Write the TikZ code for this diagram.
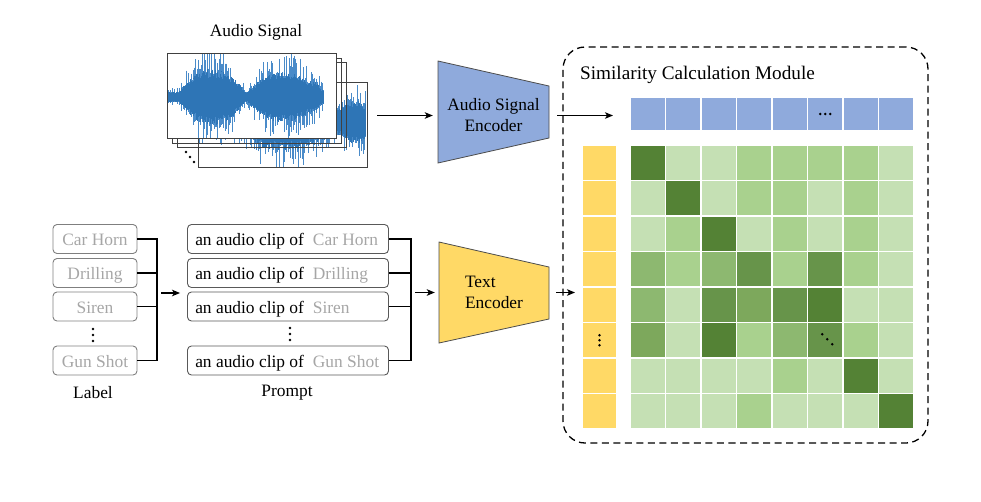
\documentclass[tikz,border=0pt]{standalone}
\usepackage{fontspec}
\setmainfont{Liberation Serif}
\usetikzlibrary{arrows.meta,calc}
\definecolor{wblue}{HTML}{2E75B6}
\definecolor{wblueL}{HTML}{4A8BC9}
\definecolor{encblue}{HTML}{8FAADC}
\definecolor{encyel}{HTML}{FFD966}
\definecolor{gA}{HTML}{C5E0B4}
\definecolor{gB}{HTML}{A9D18E}
\definecolor{gC}{HTML}{8DB870}
\definecolor{gD}{HTML}{7DA85C}
\definecolor{gE}{HTML}{67944A}
\definecolor{gF}{HTML}{548235}
\definecolor{lblgray}{HTML}{A6A6A6}
\definecolor{boxgray}{HTML}{7F7F7F}
\definecolor{pboxgray}{HTML}{595959}
\newcommand{\wavelines}[4]{%
  \foreach \i in {0,...,#2}{%
    \pgfmathsetmacro\x{#1+0.7*\i}%
    \pgfmathsetmacro\e{#4}%
    \pgfmathsetmacro\su{\e*(0.9+1.1*rnd^3)}%
    \pgfmathsetmacro\sd{\e*(0.9+1.1*rnd^3)}%
    \pgfmathsetmacro\hu{\e*(0.75+0.35*rnd)}%
    \pgfmathsetmacro\hd{\e*(0.75+0.35*rnd)}%
    \draw[wblueL, line width=0.6pt] ({\x},{#3-\su}) -- ({\x},{#3+\sd});
    \draw[wblue, line width=0.75pt] ({\x},{#3-\hu}) -- ({\x},{#3+\hd});
  }}
\begin{document}
\begin{tikzpicture}[x=1pt,y=-1pt,
  txt/.style={font=\fontsize{17.4}{21}\selectfont, inner sep=0pt},
  lbox/.style={txt, draw=boxgray, line width=0.9pt, rounded corners=4pt, minimum width=84pt, minimum height=29pt, text=lblgray, text height=13pt, text depth=0pt},
  pbox/.style={draw=pboxgray, line width=0.9pt, rounded corners=4pt, minimum width=201pt, minimum height=29pt, inner sep=0pt},
  frame/.style={draw=black!75, line width=0.8pt, minimum width=169pt, minimum height=85pt, inner sep=0pt, outer sep=0pt},
  arr/.style={-{Stealth[length=8pt,width=6.5pt,inset=2pt]}, line width=1.3pt},
  brk/.style={line width=1.5pt, line join=miter},
  enc/.style={draw=black!70, line width=0.8pt},
  cell/.style={minimum width=35.5pt, minimum height=35.5pt, inner sep=0pt, outer sep=0pt, draw=white, line width=1.3pt}]
\useasboundingbox (0,0) rectangle (981,501);
\pgfmathsetseed{11}

% ---------- audio signal stack ----------
\node[txt] (atitle) at (256,32) {Audio Signal};
\node[frame, fill=white] (F4) at (282.5,125) {};
\begin{scope}
  \clip (F4.south west) rectangle (F4.north east);
  \wavelines{199}{238}{122}{12+14*max(0,1-((\x-285)/45)*((\x-285)/45))+8*max(0,1-((\x-355)/15)*((\x-355)/15))}
\end{scope}
\draw[draw=black!75, line width=0.8pt] (F4.south west) rectangle (F4.north east);
\node[frame] (F3) at (261.5,105) {};
\node[frame] (F2) at (256.5,100.5) {};
\node[frame, fill=white] (F1) at (251.5,95.5) {};
\begin{scope}
  \clip (F1.south west) rectangle (F1.north east);
  \wavelines{167}{223}{97}{5+21*max(0,1-((\x-212)/33)*((\x-212)/33))+18*max(0,1-((\x-284)/37)*((\x-284)/37))+4*max(0,1-((\x-317)/8)*((\x-317)/8))}
\end{scope}
\draw[draw=black!75, line width=0.8pt] (F1.south west) rectangle (F1.north east);
\fill (186,152) circle[radius=1.3pt] (190,157) circle[radius=1.3pt] (194,162) circle[radius=1.3pt];

% ---------- encoders ----------
\fill[encblue] (438,61) -- (549,86) -- (549,138) -- (438,163) -- cycle;
\draw[enc] (438,61) -- (549,86) -- (549,138) -- (438,163) -- cycle;
\node[txt, align=center, minimum width=111pt] (aenc) at (493.5,115.5) {Audio Signal\\Encoder};
\fill[encyel] (439,242) -- (549,267) -- (549,319) -- (439,343) -- cycle;
\draw[enc] (439,242) -- (549,267) -- (549,319) -- (439,343) -- cycle;
\node[txt, align=left, minimum width=110pt] (tenc) at (494,292.5) {Text\\Encoder};

\coordinate (fa) at (377,115.5);
\draw[arr, shorten >=5pt] (fa) -- (aenc.west);

% ---------- labels ----------
\node[lbox] (l1) at (95,239) {Car Horn};
\node[lbox] (l2) at (95,273) {Drilling};
\node[lbox] (l3) at (95,306.5) {Siren};
\node[lbox] (l4) at (95,360.5) {Gun Shot};
\fill (93,329) circle[radius=1.3pt] (93,335) circle[radius=1.3pt] (93,341) circle[radius=1.3pt];
\node[txt] (lcap) at (93,393) {Label};

% ---------- prompts ----------
\foreach \n/\yy/\lab in {1/239/Car Horn,2/273/Drilling,3/306.5/Siren,4/360.5/Gun Shot}{
  \node[pbox] (p\n) at (288,\yy) {};
  \node[txt, anchor=base west] (pt\n) at ([xshift=8pt,yshift=-6.5pt]p\n.west) {an audio clip of\hspace{4.6pt} \textcolor{lblgray}{\lab}};
}
\fill (290,328) circle[radius=1.3pt] (290,334) circle[radius=1.3pt] (290,340) circle[radius=1.3pt];
\node[txt] (pcap) at (287,393) {Prompt};

% ---------- brackets ----------
\coordinate (lbx) at (157,0);
\draw[brk] (l1.east) -- (l1.east -| lbx) -- (l4.east -| lbx) -- (l4.east);
\draw[brk] (l2.east) -- (l2.east -| lbx);
\draw[brk] (l3.east) -- (l3.east -| lbx);
\coordinate (la) at (161,293);
\draw[arr, shorten >=7pt] (la) -- (la -| p1.west);

\coordinate (pbx) at (411,0);
\draw[brk] (p1.east) -- (p1.east -| pbx) -- (p4.east -| pbx) -- (p4.east);
\draw[brk] (p2.east) -- (p2.east -| pbx);
\draw[brk] (p3.east) -- (p3.east -| pbx);
\coordinate (pa) at (415,292.5);
\draw[arr, shorten >=4pt] (pa) -- (tenc.west);

% ---------- similarity module ----------
\node[draw, dash pattern=on 7pt off 4.5pt, line width=1.3pt, rounded corners=22pt, minimum width=365pt, minimum height=396pt, inner sep=0pt] (sim) at (745.5,245) {};
\node[anchor=base west, inner sep=0pt, font=\fontsize{19.2}{22}\selectfont] (stitle) at (580,79) {Similarity Calculation Module};

\foreach \c in {0,...,7}{
  \node[cell, minimum height=34pt, fill=encblue] (b\c) at ({630+35.5*\c+17.75},114) {};
  \node[cell, minimum width=35pt, fill=encyel] (y\c) at (599.5,{145+35.5*\c+17.75}) {};
}
\foreach \row [count=\r from 0] in {{F,A,A,B,B,B,B,A},{A,F,A,B,B,A,B,A},{A,B,F,A,B,A,B,A},{C,B,C,E,B,E,B,A},{C,A,E,D,E,F,A,A},{D,A,F,B,C,E,B,A},{A,A,A,A,B,A,F,A},{A,A,A,B,A,A,A,F}}{
  \foreach \g [count=\k from 0] in \row {
    \node[cell, fill=g\g] (m\r\k) at ({630+35.5*\k+17.75},{145+35.5*\r+17.75}) {};
  }
}
% dots
\fill (b5.center) ++(-5,0) circle[radius=1.3pt] ++(5,0) circle[radius=1.3pt] ++(5,0) circle[radius=1.3pt];
\fill (y5.center) ++(0,-5) circle[radius=1.3pt] ++(0,5) circle[radius=1.3pt] ++(0,5) circle[radius=1.3pt];
\fill (m55.center) ++(-3,-6) circle[radius=1.3pt] ++(5,5) circle[radius=1.3pt] ++(5,5) circle[radius=1.3pt];

\draw[arr, shorten <=8pt, shorten >=17pt] (aenc.east) -- (aenc.east -| b0.west);
\coordinate (ta) at (575,292.5);
\draw[arr, shorten <=7pt] (tenc.east) -- (ta);
\end{tikzpicture}
\end{document}
